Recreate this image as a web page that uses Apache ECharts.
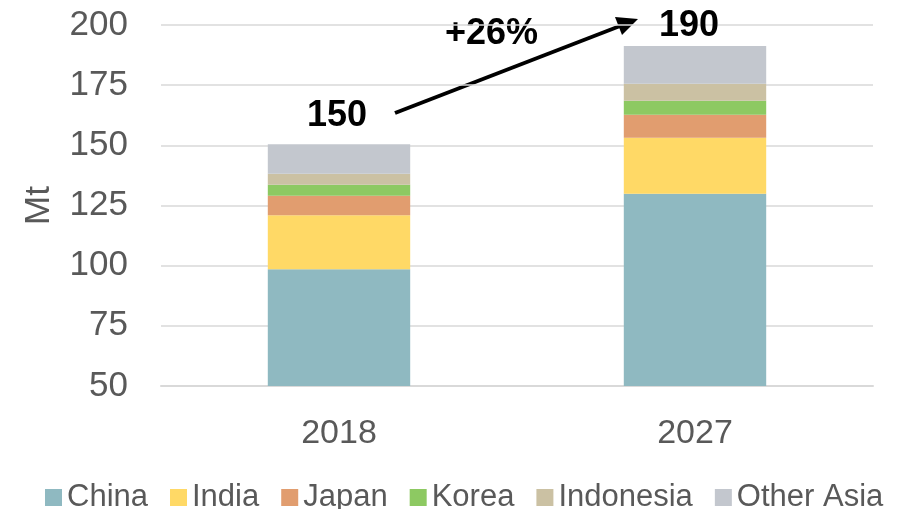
<!DOCTYPE html>
<html>
<head>
<meta charset="utf-8">
<script src="https://cdn.jsdelivr.net/npm/echarts@6/dist/echarts.min.js"></script>
<style>
  html, body { margin: 0; padding: 0; background: #fff; }
  #chart { width: 901px; height: 509px; }
</style>
</head>
<body>
<div id="chart"></div>
<script>
// values (Mt)
var years = ['2018', '2027']
var china = [98.5, 129.9]
var india = [22.4, 23.3]
var japan = [8.2, 9.5]
var korea = [4.5, 5.8]
var indonesia = [4.6, 7.1]
var otherAsia = [12.2, 15.7]
var totalLabels = ['150', '190']
var growthLabel = '+26%'

var names = ['China', 'India', 'Japan', 'Korea', 'Indonesia', 'Other Asia']
var colors = ['#8fb9c1', '#ffd966', '#e19d6f', '#8dc962', '#cbc1a3', '#c3c7ce']
var values = [china, india, japan, korea, indonesia, otherAsia]

var font = '"Liberation Sans", Arial, sans-serif'

var series = names.map(function(name, i) {
  var s = {
    name: name,
    type: 'bar',
    stack: 'total',
    barWidth: '40%',
    itemStyle: { color: colors[i] },
    data: values[i]
  }
  if (i === names.length - 1) {
    // totals sit on top of the last segment
    s.data = values[i].map(function(v, j) {
      return {
        value: v,
        label: { distance: j === 0 ? 10 : 2, offset: [j === 0 ? -2 : -6, 0] }
      }
    })
    s.label = {
      show: true,
      position: 'top',
      color: '#000',
      fontFamily: font,
      fontWeight: 'bold',
      fontSize: 36,
      formatter: function(p) { return totalLabels[p.dataIndex] }
    }
  }
  return s
})

var chart = echarts.init(document.getElementById('chart'))
chart.setOption({
  animation: false,
  textStyle: { fontFamily: font },
  grid: { left: 161, right: 28, top: 25, bottom: 123 },
  legend: {
    data: names,
    left: 40,
    top: 477,
    icon: 'rect',
    itemWidth: 17,
    itemHeight: 17,
    itemGap: 22,
    textStyle: { fontSize: 31, color: '#595959', fontFamily: font }
  },
  xAxis: {
    type: 'category',
    data: years,
    axisTick: { show: false },
    axisLine: { lineStyle: { color: '#d9d9d9', width: 2 } },
    axisLabel: { fontSize: 34, color: '#595959', margin: 31 }
  },
  yAxis: {
    type: 'value',
    min: 50,
    max: 200,
    interval: 25,
    name: 'Mt',
    nameLocation: 'middle',
    nameRotate: 90,
    nameGap: 104,
    nameTextStyle: { fontSize: 35, color: '#595959' },
    axisLine: { show: false },
    axisTick: { show: false },
    axisLabel: { fontSize: 35, color: '#595959', margin: 33 },
    splitLine: { lineStyle: { color: '#d9d9d9', width: 1.5 } }
  },
  graphic: [
    {
      type: 'line',
      shape: { x1: 395, y1: 113, x2: 620, y2: 26 },
      style: { stroke: '#000', lineWidth: 4 }
    },
    {
      type: 'polygon',
      shape: { points: [[638, 19], [622, 35], [615, 17]] },
      style: { fill: '#000' }
    },
    {
      type: 'text',
      left: 445,
      top: 16,
      style: { text: growthLabel, font: 'bold 36px ' + font, fill: '#000' }
    }
  ],
  series: series
})
</script>
</body>
</html>
